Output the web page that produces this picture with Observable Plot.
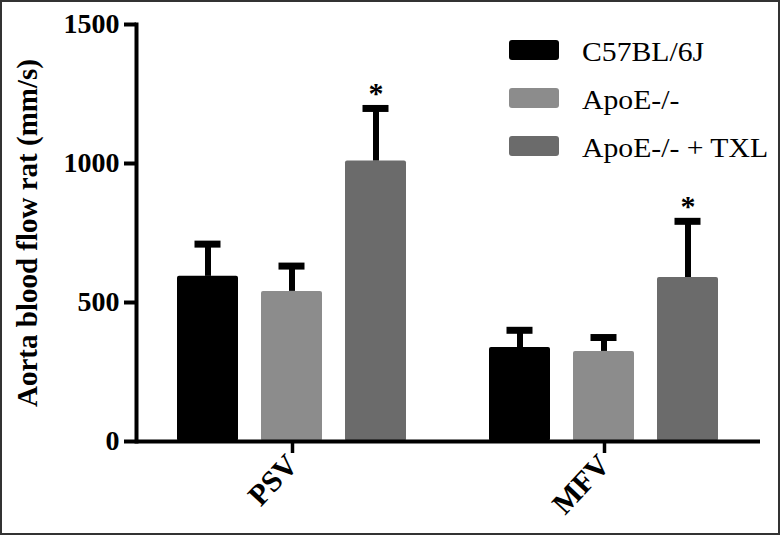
<!DOCTYPE html>
<html><head><meta charset="utf-8">
<script src="https://cdn.jsdelivr.net/npm/d3@7"></script>
<script src="https://cdn.jsdelivr.net/npm/@observablehq/plot@0.6"></script>
<style>
html,body{margin:0;padding:0;background:#fff;}
#wrap{position:relative;width:780px;height:535px;overflow:hidden;}
#wrap > svg{display:block;}
#frame{position:absolute;left:0;top:0;width:780px;height:535px;box-sizing:border-box;border:2px solid #333;pointer-events:none;}
#legend{position:absolute;left:0;top:0;pointer-events:none;}
</style>
</head><body>
<div id="wrap"><div id="frame"></div></div>
<script>
const groups = ["PSV", "MFV"];
const series = ["C57BL/6J", "ApoE-/-", "ApoE-/- + TXL"];
const colors = ["#000000", "#8c8c8c", "#6b6b6b"];
const psvMean = [594, 540, 1009];
const psvSD = [116, 91, 189];
const mfvMean = [338, 324, 590];
const mfvSD = [62, 50, 202];
const psvStar = ["", "", "*"];
const mfvStar = ["", "", "*"];
const yTicks = [0, 500, 1000, 1500];
const yLabel = "Aorta blood flow rat (mm/s)";

const means = [psvMean, mfvMean], sds = [psvSD, mfvSD], stars = [psvStar, mfvStar];
const rows = [];
groups.forEach((g, gi) => series.forEach((s, si) => rows.push({
  group: g, series: s, mean: means[gi][si], hi: means[gi][si] + sds[gi][si], star: stars[gi][si]
})));

const serif = '"Liberation Serif", "Times New Roman", serif';
const plot = Plot.plot({
  width: 780, height: 535,
  marginTop: 24, marginBottom: 94, marginLeft: 136, marginRight: 20,
  style: {fontFamily: serif, fontWeight: "bold", color: "#000", background: "transparent", overflow: "visible"},
  fx: {domain: groups, paddingInner: 0, paddingOuter: 0, label: null},
  x: {domain: series, paddingInner: 0.2706, paddingOuter: 0.4706, axis: null},
  y: {domain: [0, 1500], axis: null},
  color: {type: "ordinal", domain: series, range: colors},
  marks: [
    Plot.barY(rows, {fx: "group", x: "series", y: "mean", fill: "series", rx: 2}),
    Plot.ruleX(rows, {fx: "group", x: "series", y1: "mean", y2: "hi", stroke: "#000", strokeWidth: 6}),
    Plot.tickY(rows, {fx: "group", x: "series", y: "hi", stroke: "#000", strokeWidth: 7, insetLeft: 17.5, insetRight: 17.5}),
    Plot.text(rows.filter(d => d.star), {fx: "group", x: "series", y: "hi", text: "star", fontSize: 30, fontWeight: "bold", dy: -15}),
    Plot.ruleY([0], {stroke: "#000", strokeWidth: 4}),
    Plot.frame({anchor: "left", facetAnchor: "left", stroke: "#000", strokeWidth: 4}),
    Plot.axisY({ticks: yTicks, tickFormat: d3.format("d"), tickSize: 12, tickPadding: 5, fontSize: 28, strokeWidth: 4, label: null}),
    Plot.text([yLabel], {text: d => d, frameAnchor: "left", facetAnchor: "left", textAnchor: "middle", rotate: -90, dx: -109, fontSize: 29, fontWeight: "bold"}),
    Plot.axisFx({anchor: "bottom", tickRotate: -47, tickSize: 12, tickPadding: 6, fontSize: 30, strokeWidth: 3.5, label: null})
  ]
});
const wrap = document.getElementById("wrap");
wrap.insertBefore(plot, wrap.firstChild);

// legend overlay
const lg = d3.select(wrap).append("svg").attr("id", "legend").attr("width", 780).attr("height", 535);
series.forEach((s, i) => {
  const y0 = 40 + i * 48;
  lg.append("rect").attr("x", 509).attr("y", y0).attr("width", 50).attr("height", 20).attr("rx", 3).attr("fill", colors[i]);
  lg.append("text").attr("transform", `translate(582,${y0 + 21}) scale(1.1,1)`)
    .attr("font-family", serif).attr("font-size", 27).attr("fill", "#000").text(s);
});
</script>
</body></html>
